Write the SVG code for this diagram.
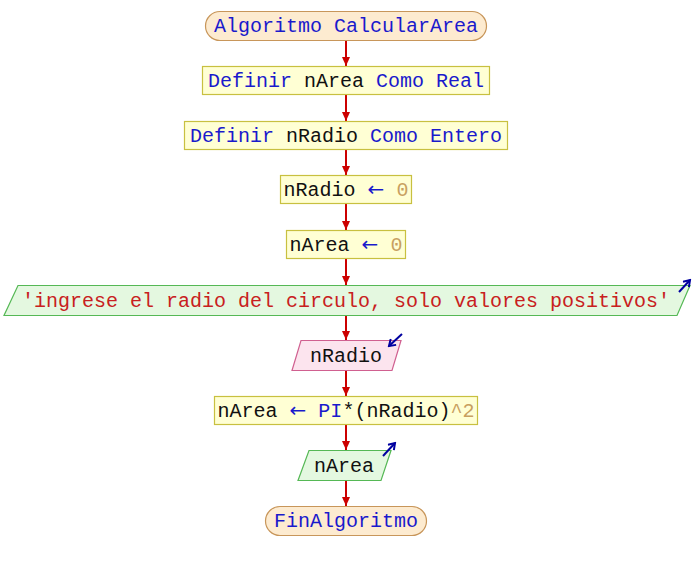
<svg xmlns="http://www.w3.org/2000/svg" width="692" height="570" viewBox="0 0 692 570">
<defs>
<marker id="ah" markerWidth="10" markerHeight="10" refX="9" refY="5" orient="auto" markerUnits="userSpaceOnUse">
<path d="M0,1 L9,5 L0,9 Z" fill="#cc0000"/>
</marker>
<marker id="io" markerWidth="10" markerHeight="10" refX="8" refY="5" orient="auto" markerUnits="userSpaceOnUse">
<path d="M2,1 L8,5 L2,9" fill="none" stroke="#0000a0" stroke-width="2"/>
</marker>
</defs>
<style>
text{font-family:"Liberation Mono","DejaVu Sans Mono",monospace;font-size:20px;text-anchor:middle;fill:#111}
.term{fill:#fdebd0;stroke:#c8965a;stroke-width:1.2}
.proc{fill:#ffffd4;stroke:#c8c040;stroke-width:1.2}
.out{fill:#e4f8e0;stroke:#55b855;stroke-width:1.2}
.in{fill:#fce4ee;stroke:#d06090;stroke-width:1.2}
.kw{fill:#1a1acc}
.arr{fill:#1a1acc;font-family:"DejaVu Sans","Liberation Sans",sans-serif;font-weight:normal}
.num{fill:#c8a060}
.str{fill:#c82020}
.con line{stroke:#cc0000;stroke-width:2;marker-end:url(#ah)}
.ioa{stroke:#0000a0;stroke-width:2;fill:none;marker-end:url(#io)}
</style>
<g class="con">
<line x1="346" y1="40" x2="346" y2="66"/>
<line x1="346" y1="94" x2="346" y2="121"/>
<line x1="346" y1="150" x2="346" y2="175"/>
<line x1="346" y1="204" x2="346" y2="230"/>
<line x1="346" y1="259" x2="346" y2="285"/>
<line x1="346" y1="315" x2="346" y2="340"/>
<line x1="346" y1="370" x2="346" y2="396"/>
<line x1="346" y1="425" x2="346" y2="450"/>
<line x1="346" y1="480" x2="346" y2="506"/>
</g>
<g id="start">
<rect class="term" x="205.5" y="11.5" width="281" height="29" rx="14.5"/>
<text x="346" y="32" class="kw">Algoritmo CalcularArea</text>
</g>
<g id="def1">
<rect class="proc" x="202.5" y="66.5" width="287" height="28"/>
<text x="346" y="87"><tspan class="kw">Definir</tspan> nArea <tspan class="kw">Como Real</tspan></text>
</g>
<g id="def2">
<rect class="proc" x="184.5" y="121.5" width="323" height="28"/>
<text x="346" y="142"><tspan class="kw">Definir</tspan> nRadio <tspan class="kw">Como Entero</tspan></text>
</g>
<g id="asg1">
<rect class="proc" x="280.5" y="175.5" width="131" height="28"/>
<text x="346" y="196">nRadio <tspan class="arr">←</tspan> <tspan class="num">0</tspan></text>
</g>
<g id="asg2">
<rect class="proc" x="286.5" y="230.5" width="119" height="28"/>
<text x="346" y="251">nArea <tspan class="arr">←</tspan> <tspan class="num">0</tspan></text>
</g>
<g id="out1">
<polygon class="out" points="18,285.5 690,285.5 677,315.5 4,315.5"/>
<text x="346" y="307" class="str">'ingrese el radio del circulo, solo valores positivos'</text>
<path class="ioa" d="M679,292 L690,280"/>
</g>
<g id="in1">
<polygon class="in" points="301,340.5 401,340.5 392,370.5 292,370.5"/>
<text x="346" y="362">nRadio</text>
<path class="ioa" d="M402,334 L389,346"/>
</g>
<g id="asg3">
<rect class="proc" x="214.5" y="396.5" width="263" height="28"/>
<text x="346" y="417">nArea <tspan class="arr">←</tspan> <tspan class="kw">PI</tspan>*(nRadio)<tspan class="num">^2</tspan></text>
</g>
<g id="out2">
<polygon class="out" points="309,450.5 391,450.5 381,480.5 298,480.5"/>
<text x="344" y="472">nArea</text>
<path class="ioa" d="M383,456 L395,443"/>
</g>
<g id="end">
<rect class="term" x="265.5" y="506.5" width="161" height="29" rx="14.5"/>
<text x="346" y="527" class="kw">FinAlgoritmo</text>
</g>
</svg>
